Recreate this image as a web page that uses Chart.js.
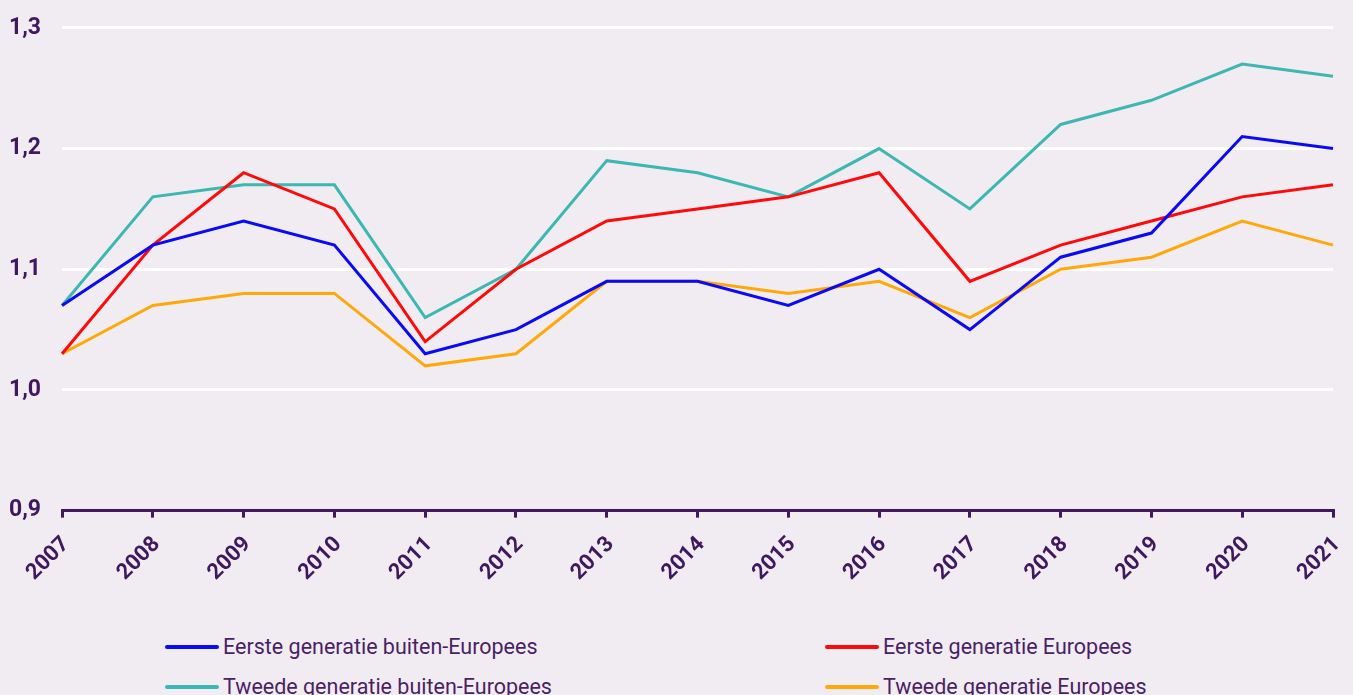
<!DOCTYPE html>
<html>
<head>
<meta charset="utf-8">
<script src="https://cdn.jsdelivr.net/npm/chart.js@4/dist/chart.umd.min.js"></script>
<style>
  html, body { margin: 0; padding: 0; background: #f1ecf2; overflow: hidden; }
  #wrap { position: relative; width: 1353px; height: 600px; }
  #legend { position: absolute; left: 0; top: 634px; width: 1353px; font-family: Roboto, sans-serif; font-size: 21.5px; color: #4a1f66; }
  .item { position: absolute; display: flex; align-items: center; white-space: nowrap; }
  .swatch { width: 54px; height: 4px; border-radius: 2px; margin-right: 4px; }
</style>
</head>
<body>
<div id="wrap"><canvas id="c"></canvas></div>
<div id="legend"></div>
<script>
const years = ['2007','2008','2009','2010','2011','2012','2013','2014','2015','2016','2017','2018','2019','2020','2021'];
const eersteBuiten = [1.07,1.12,1.14,1.12,1.03,1.05,1.09,1.09,1.07,1.10,1.05,1.11,1.13,1.21,1.20];
const eersteEuropees = [1.03,1.12,1.18,1.15,1.04,1.10,1.14,1.15,1.16,1.18,1.09,1.12,1.14,1.16,1.17];
const tweedeBuiten = [1.07,1.16,1.17,1.17,1.06,1.10,1.19,1.18,1.16,1.20,1.15,1.22,1.24,1.27,1.26];
const tweedeEuropees = [1.03,1.07,1.08,1.08,1.02,1.03,1.09,1.09,1.08,1.09,1.06,1.10,1.11,1.14,1.12];
const seriesNames = ['Eerste generatie buiten-Europees','Eerste generatie Europees','Tweede generatie buiten-Europees','Tweede generatie Europees'];
const seriesColors = ['#0a0af5','#ff0a0a','#3cb7b1','#ffa80a'];

const textColor = '#3f1860';
const ds = [eersteBuiten, eersteEuropees, tweedeBuiten, tweedeEuropees].map((d,i) => ({
  label: seriesNames[i], data: d, borderColor: seriesColors[i], backgroundColor: seriesColors[i],
  borderWidth: 3, pointRadius: 0, pointHoverRadius: 0, tension: 0, fill: false
}));

const chart = new Chart(document.getElementById('c'), {
  type: 'line',
  data: { labels: years, datasets: ds },
  options: {
    responsive: true, maintainAspectRatio: false, animation: false,
    layout: { padding: { left: -12, right: 20, top: 27, bottom: 0 } },
    plugins: { legend: { display: false }, tooltip: { enabled: false } },
    scales: {
      x: {
        offset: false,
        afterFit: (s) => { s.paddingRight = 0; },
        border: { display: true, color: textColor, width: 3 },
        grid: { display: true, drawOnChartArea: false, drawTicks: true, tickLength: 7, tickColor: textColor, lineWidth: 3 },
        ticks: { color: textColor, font: { family: 'Roboto', size: 22, weight: 'bold' }, maxRotation: 45, minRotation: 45, padding: 14, labelOffset: 4, autoSkip: false }
      },
      y: {
        min: 0.9, max: 1.3,
        border: { display: false },
        grid: { color: '#ffffff', lineWidth: 3, drawTicks: false },
        ticks: { stepSize: 0.1, color: textColor, padding: 21, font: { family: 'Roboto', size: 23, weight: 'bold', lineHeight: 0.6 },
          callback: v => v.toFixed(1).replace('.', ',') }
      }
    }
  }
});

const legend = document.getElementById('legend');
const pos = [[165,0],[825,0],[165,40],[825,40]];
chart.data.datasets.forEach((d,i) => {
  const el = document.createElement('div');
  el.className = 'item';
  el.style.left = pos[i][0] + 'px';
  el.style.top = pos[i][1] + 'px';
  el.innerHTML = '<span class="swatch" style="background:' + d.borderColor + '"></span><span>' + d.label + '</span>';
  legend.appendChild(el);
});
</script>
</body>
</html>
